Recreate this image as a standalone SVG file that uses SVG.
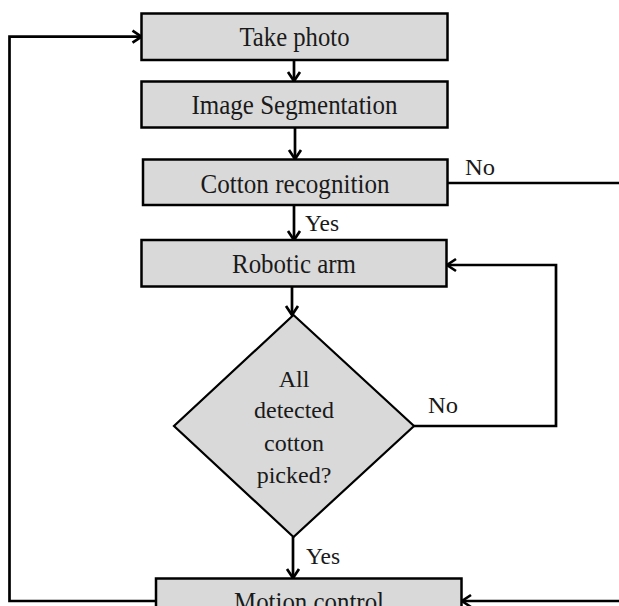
<svg xmlns="http://www.w3.org/2000/svg" width="619" height="606" viewBox="0 0 619 606">
<style>
.box{fill:#d9d9d9;stroke:#000;stroke-width:2.5}
.dia{fill:#d9d9d9;stroke:#000;stroke-width:2.2}
.t{font-family:"Liberation Serif","Times New Roman",serif;font-size:27px;fill:#1a1a1a;text-anchor:middle}
.d{font-family:"Liberation Serif","Times New Roman",serif;font-size:24px;fill:#1a1a1a;text-anchor:middle}
.l{font-family:"Liberation Serif","Times New Roman",serif;font-size:24px;fill:#1a1a1a}
.c{fill:none;stroke:#000;stroke-width:2.7}
</style>
<defs>
<marker id="arr" markerUnits="userSpaceOnUse" markerWidth="16" markerHeight="16" refX="12" refY="8" orient="auto">
<path d="M3,2 L12,8 L3,14" fill="none" stroke="#000" stroke-width="2.7"/>
</marker>
</defs>
<g id="connectors">
<line class="c" x1="294" y1="60" x2="294" y2="81" marker-end="url(#arr)"/>
<line class="c" x1="295" y1="128" x2="295" y2="159" marker-end="url(#arr)"/>
<line class="c" x1="294" y1="205" x2="294" y2="240" marker-end="url(#arr)"/>
<line class="c" x1="292" y1="287" x2="292" y2="315" marker-end="url(#arr)"/>
<polyline class="c" points="414,426 556,426 556,265 447,265" marker-end="url(#arr)"/>
<line class="c" x1="293" y1="537" x2="293" y2="578" marker-end="url(#arr)"/>
<line class="c" x1="447" y1="183" x2="619" y2="183"/>
<line class="c" x1="619" y1="601" x2="462" y2="601" marker-end="url(#arr)"/>
<polyline class="c" points="156,601 9.5,601 9.5,36.7 141.5,36.7" marker-end="url(#arr)"/>
<text class="l" x="465" y="175" textLength="30" lengthAdjust="spacingAndGlyphs">No</text>
<text class="l" x="305" y="231" textLength="34" lengthAdjust="spacingAndGlyphs">Yes</text>
<text class="l" x="428" y="413" textLength="30" lengthAdjust="spacingAndGlyphs">No</text>
<text class="l" x="306" y="564" textLength="34" lengthAdjust="spacingAndGlyphs">Yes</text>
</g>
<g id="take-photo">
<rect class="box" x="141.5" y="13.5" width="306" height="46.5"/>
<text class="t" x="294.5" y="46" textLength="110" lengthAdjust="spacingAndGlyphs">Take photo</text>
</g>
<g id="image-segmentation">
<rect class="box" x="141.5" y="81.5" width="306" height="46"/>
<text class="t" x="294.5" y="113.5" textLength="206" lengthAdjust="spacingAndGlyphs">Image Segmentation</text>
</g>
<g id="cotton-recognition">
<rect class="box" x="143" y="159.5" width="304.5" height="45.5"/>
<text class="t" x="295" y="192.5" textLength="189" lengthAdjust="spacingAndGlyphs">Cotton recognition</text>
</g>
<g id="robotic-arm">
<rect class="box" x="141.5" y="240" width="305" height="46.5"/>
<text class="t" x="294" y="273.3" textLength="124" lengthAdjust="spacingAndGlyphs">Robotic arm</text>
</g>
<g id="decision">
<polygon class="dia" points="293.5,315 414,426 293.5,537 174,426"/>
<text class="d" x="294" y="387">All</text>
<text class="d" x="294" y="418">detected</text>
<text class="d" x="294" y="451">cotton</text>
<text class="d" x="294" y="483">picked?</text>
</g>
<g id="motion-control">
<rect class="box" x="156" y="578.5" width="305.5" height="40"/>
<text class="t" x="309" y="611" textLength="150" lengthAdjust="spacingAndGlyphs">Motion control</text>
</g>
</svg>
